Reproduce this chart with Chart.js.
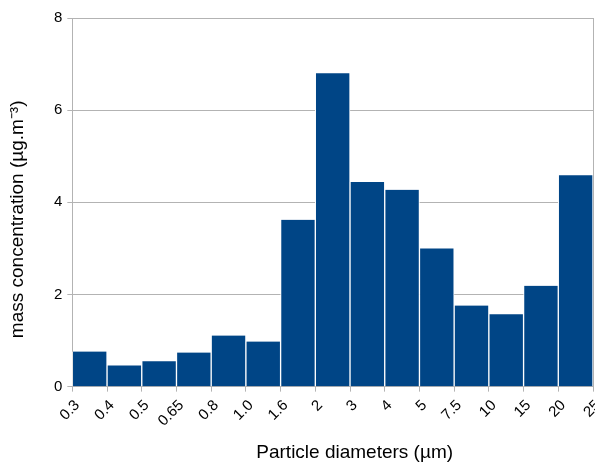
<!DOCTYPE html>
<html>
<head>
<meta charset="utf-8">
<script src="https://cdn.jsdelivr.net/npm/chart.js@4/dist/chart.umd.min.js"></script>
<style>
  html, body { margin: 0; padding: 0; background: #fff; }
  #wrap { width: 595px; height: 462px; }
</style>
</head>
<body>
<div id="wrap"><canvas id="c" width="595" height="462"></canvas></div>
<script>
// Size-bin edges (µm) and mass concentration per bin (µg.m⁻³)
const binEdges = ['0.3', '0.4', '0.5', '0.65', '0.8', '1.0', '1.6', '2', '3', '4', '5', '7.5', '10', '15', '20', '25'];
const massConc = [0.76, 0.46, 0.55, 0.74, 1.11, 0.98, 3.62, 6.80, 4.44, 4.27, 3.00, 1.76, 1.57, 2.19, 4.59];
const yTicks = [0, 2, 4, 6, 8];
const xTitle = 'Particle diameters (µm)';
const yTitle = 'mass concentration (µg.m⁻³)';

const FONT = "'Liberation Sans', Arial, sans-serif";
const GRID = '#b3b3b3';

// Each bar spans from one bin edge to the next
const points = massConc.map((v, i) => ({ x: i + 0.5, y: v }));

// Axis titles, placed relative to the chart area
const axisTitles = {
  id: 'axisTitles',
  afterDraw(chart) {
    const { ctx, chartArea: a } = chart;
    ctx.save();
    ctx.fillStyle = '#000';
    ctx.font = `19px ${FONT}`;
    ctx.textAlign = 'center';
    ctx.textBaseline = 'middle';
    ctx.fillText(xTitle, (a.left + a.right) / 2 + 22, 453);
    ctx.translate(18, (a.top + a.bottom) / 2 + 17);
    ctx.rotate(-Math.PI / 2);
    ctx.fillText(yTitle, 0, 0);
    ctx.restore();
  }
};

new Chart(document.getElementById('c'), {
  type: 'bar',
  data: {
    datasets: [{
      data: points,
      backgroundColor: '#004586',
      borderColor: '#ffffff',
      borderWidth: { left: 1, right: 1, top: 0, bottom: 0 },
      barPercentage: 1,
      categoryPercentage: 1
    }]
  },
  plugins: [axisTitles],
  options: {
    responsive: false,
    animation: false,
    layout: { padding: { left: 49, right: 2, top: 18, bottom: 27 } },
    plugins: { legend: { display: false }, tooltip: { enabled: false } },
    scales: {
      x: {
        type: 'linear',
        offset: false,
        min: 0,
        max: binEdges.length - 1,
        afterBuildTicks: (axis) => { axis.ticks = binEdges.map((_, i) => ({ value: i })); },
        afterFit: (axis) => { axis.paddingRight = 0; },
        ticks: {
          autoSkip: false,
          maxRotation: 45,
          minRotation: 45,
          color: '#000',
          font: { family: FONT, size: 15 },
          padding: 5,
          labelOffset: 5,
          callback: (v) => binEdges[v]
        },
        grid: {
          offset: false,
          color: (ctx) => ctx.index === binEdges.length - 1 ? GRID : 'rgba(0,0,0,0)',
          tickColor: GRID,
          tickLength: 5,
          lineWidth: 1
        },
        border: { display: true, color: GRID }
      },
      y: {
        min: 0,
        max: 8,
        afterBuildTicks: (axis) => { axis.ticks = yTicks.map(v => ({ value: v })); },
        ticks: {
          color: '#000',
          font: { family: FONT, size: 15 },
          padding: 5
        },
        grid: { color: GRID, tickColor: GRID, tickLength: 5 },
        border: { display: true, color: GRID }
      }
    }
  }
});
</script>
</body>
</html>
